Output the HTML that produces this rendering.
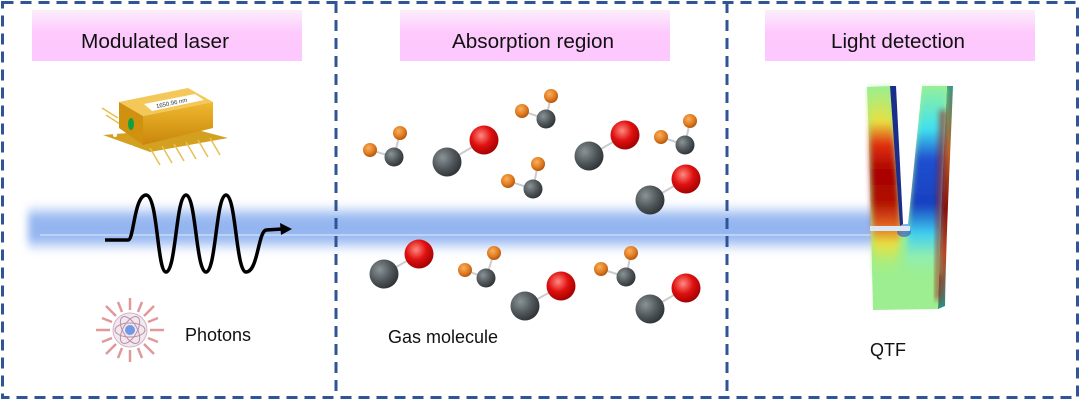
<!DOCTYPE html>
<html><head><meta charset="utf-8"><style>
html,body{margin:0;padding:0;background:#fff;}
body{width:1080px;height:400px;position:relative;overflow:hidden;font-family:"Liberation Sans",sans-serif;}
</style></head><body>
<svg width="1080" height="400" viewBox="0 0 1080 400" xmlns="http://www.w3.org/2000/svg" style="position:absolute;left:0;top:0">
<defs>
<linearGradient id="pink" x1="0" y1="0" x2="0" y2="1"><stop offset="0" stop-color="#fbeefb"/><stop offset="0.45" stop-color="#fdc9fd"/><stop offset="1" stop-color="#fdc8fd"/></linearGradient>
<linearGradient id="beamv" x1="0" y1="0" x2="0" y2="1"><stop offset="0" stop-color="#a8c4f4" stop-opacity="0"/><stop offset="0.3" stop-color="#8fb2f0"/><stop offset="0.7" stop-color="#8fb2f0"/><stop offset="1" stop-color="#a8c4f4" stop-opacity="0"/></linearGradient>
<filter id="blur"><feGaussianBlur stdDeviation="4"/></filter>
<filter id="soft"><feGaussianBlur stdDeviation="3"/></filter>
<radialGradient id="gray" cx="0.35" cy="0.35" r="0.7"><stop offset="0" stop-color="#8a9396"/><stop offset="0.6" stop-color="#4e5559"/><stop offset="1" stop-color="#2d3235"/></radialGradient>
<radialGradient id="red" cx="0.4" cy="0.35" r="0.7"><stop offset="0" stop-color="#ff8a80"/><stop offset="0.5" stop-color="#e01010"/><stop offset="1" stop-color="#9a0000"/></radialGradient>
<radialGradient id="org" cx="0.4" cy="0.35" r="0.7"><stop offset="0" stop-color="#f8b060"/><stop offset="0.6" stop-color="#e07a1e"/><stop offset="1" stop-color="#a85010"/></radialGradient>
<linearGradient id="qL" x1="0" y1="0" x2="0" y2="1"><stop offset="0" stop-color="#9cee90"/><stop offset="0.18" stop-color="#e8e040"/><stop offset="0.3" stop-color="#e03010"/><stop offset="0.45" stop-color="#a80000"/><stop offset="0.6" stop-color="#b01000"/><stop offset="0.72" stop-color="#e06020"/><stop offset="0.82" stop-color="#e8e040"/><stop offset="0.92" stop-color="#a8ee80"/><stop offset="1" stop-color="#9cee90"/></linearGradient>
<linearGradient id="qR" x1="0" y1="0" x2="0" y2="1"><stop offset="0" stop-color="#8ef0a0"/><stop offset="0.22" stop-color="#40e0f0"/><stop offset="0.38" stop-color="#2050d0"/><stop offset="0.62" stop-color="#1840c0"/><stop offset="0.78" stop-color="#40d0f0"/><stop offset="0.9" stop-color="#90eeb0"/><stop offset="1" stop-color="#9cee90"/></linearGradient>
<linearGradient id="qS" x1="0" y1="0" x2="0" y2="1"><stop offset="0" stop-color="#3a9a80"/><stop offset="0.3" stop-color="#c06020"/><stop offset="0.55" stop-color="#8a1000"/><stop offset="0.75" stop-color="#c04020"/><stop offset="1" stop-color="#2a9080"/></linearGradient>
<linearGradient id="gold" x1="0" y1="0" x2="0" y2="1"><stop offset="0" stop-color="#f0b830"/><stop offset="1" stop-color="#c8860a"/></linearGradient>
</defs>

<rect x="32" y="10" width="270" height="51" fill="url(#pink)"/>
<rect x="400" y="10" width="270" height="51" fill="url(#pink)"/>
<rect x="765" y="10" width="270" height="51" fill="url(#pink)"/>
<g font-family="Liberation Sans, sans-serif" font-size="20" fill="#111" text-anchor="middle">
<text x="155" y="48" textLength="148" lengthAdjust="spacingAndGlyphs">Modulated laser</text>
<text x="533" y="48" textLength="162" lengthAdjust="spacingAndGlyphs">Absorption region</text>
<text x="898" y="48" textLength="134" lengthAdjust="spacingAndGlyphs">Light detection</text>
</g>

<rect x="28" y="203" width="892" height="50" fill="url(#beamv)" filter="url(#blur)" opacity="0.95"/>
<line x1="40" y1="235" x2="880" y2="235" stroke="#dfe8fb" stroke-width="1.5" opacity="0.7"/>

<g>
<polygon points="103,135 190,128 228,138 150,152" fill="#d4a020"/>
<g stroke="#e6c050" stroke-width="1.5">
<line x1="150" y1="148" x2="160" y2="165"/><line x1="162" y1="146" x2="172" y2="163"/><line x1="174" y1="144" x2="184" y2="161"/><line x1="186" y1="142" x2="196" y2="159"/><line x1="198" y1="140" x2="208" y2="157"/><line x1="210" y1="138" x2="220" y2="155"/>
<line x1="102" y1="108" x2="118" y2="118"/><line x1="106" y1="115" x2="120" y2="124"/>
</g>
<polygon points="119,102 188,88 213,102 143,116" fill="#f3c858"/>
<polygon points="143,116 213,102 213,128 143,145" fill="url(#gold)"/>
<polygon points="119,102 143,116 143,145 119,128" fill="#d09010"/>
<polygon points="144,104 195,94 204,100 152,111" fill="#fff"/>
<text x="172" y="105" font-size="6" fill="#333" transform="rotate(-12 172 105)" text-anchor="middle">1650.96 nm</text>
<ellipse cx="131" cy="124" rx="3" ry="6" fill="#10a040"/>
<circle cx="115" cy="135" r="2" fill="#fff"/><circle cx="131" cy="147" r="2" fill="#fff"/>
</g>

<path d="M105,240 L128,240 C134,240 134,196 146,195 C158,195 157,272 166,272 C176,272 176,195 186,195 C196,195 196,272 206,272 C216,272 216,195 226,195 C236,195 236,272 246,272 C258,272 258,232 266,230 L282,229" fill="none" stroke="#000" stroke-width="3.5" stroke-linejoin="round"/>
<polygon points="292,229 280,223 281,235" fill="#000"/>

<g transform="translate(130,330)" stroke="#d88080" stroke-width="2.5" opacity="0.8">
<line x1="0" y1="-20" x2="0" y2="-32"/><line x1="0" y1="20" x2="0" y2="32"/><line x1="-20" y1="0" x2="-34" y2="0"/><line x1="20" y1="0" x2="34" y2="0"/>
<line x1="14" y1="14" x2="24" y2="24"/><line x1="-14" y1="14" x2="-24" y2="24"/><line x1="14" y1="-14" x2="24" y2="-24"/><line x1="-14" y1="-14" x2="-24" y2="-24"/>
<line x1="8" y1="-18" x2="12" y2="-28"/><line x1="-8" y1="18" x2="-12" y2="28"/><line x1="18" y1="8" x2="28" y2="12"/><line x1="-18" y1="-8" x2="-28" y2="-12"/>
<line x1="-8" y1="-18" x2="-12" y2="-28"/><line x1="8" y1="18" x2="12" y2="28"/><line x1="18" y1="-8" x2="28" y2="-12"/><line x1="-18" y1="8" x2="-28" y2="12"/>
<circle r="17" fill="#ece4ec" stroke="#c8a0b8" stroke-width="1"/>
<ellipse rx="15" ry="7" fill="none" stroke="#b07090" stroke-width="1"/>
<ellipse rx="15" ry="7" fill="none" stroke="#b07090" stroke-width="1" transform="rotate(60)"/>
<ellipse rx="15" ry="7" fill="none" stroke="#b07090" stroke-width="1" transform="rotate(-60)"/>
<circle r="5" fill="#5080e0" stroke="none"/>
</g>
<text x="185" y="341" font-size="18" fill="#111">Photons</text>

<g stroke="#ccc" stroke-width="2">
<line x1="394" y1="157" x2="370" y2="150"/><line x1="394" y1="157" x2="400" y2="133"/>
<line x1="546" y1="119" x2="522" y2="111"/><line x1="546" y1="119" x2="551" y2="96"/>
<line x1="533" y1="189" x2="508" y2="181"/><line x1="533" y1="189" x2="538" y2="164"/>
<line x1="685" y1="145" x2="661" y2="137"/><line x1="685" y1="145" x2="690" y2="121"/>
<line x1="486" y1="278" x2="465" y2="270"/><line x1="486" y1="278" x2="494" y2="253"/>
<line x1="626" y1="277" x2="601" y2="269"/><line x1="626" y1="277" x2="631" y2="253"/>
<line x1="447" y1="162" x2="484" y2="140"/><line x1="589" y1="156" x2="625" y2="135"/>
<line x1="650" y1="200" x2="686" y2="179"/><line x1="384" y1="274" x2="419" y2="254"/>
<line x1="525" y1="306" x2="561" y2="286"/><line x1="650" y1="309" x2="686" y2="288"/>
</g>
<g fill="url(#org)">
<circle cx="370" cy="150" r="7"/><circle cx="400" cy="133" r="7"/>
<circle cx="522" cy="111" r="7"/><circle cx="551" cy="96" r="7"/>
<circle cx="508" cy="181" r="7"/><circle cx="538" cy="164" r="7"/>
<circle cx="661" cy="137" r="7"/><circle cx="690" cy="121" r="7"/>
<circle cx="465" cy="270" r="7"/><circle cx="494" cy="253" r="7"/>
<circle cx="601" cy="269" r="7"/><circle cx="631" cy="253" r="7"/>
</g>
<g fill="url(#gray)">
<circle cx="394" cy="157" r="9.5"/><circle cx="546" cy="119" r="9.5"/><circle cx="533" cy="189" r="9.5"/>
<circle cx="685" cy="145" r="9.5"/><circle cx="486" cy="278" r="9.5"/><circle cx="626" cy="277" r="9.5"/>
<circle cx="447" cy="162" r="14.5"/><circle cx="589" cy="156" r="14.5"/><circle cx="650" cy="200" r="14.5"/>
<circle cx="384" cy="274" r="14.5"/><circle cx="525" cy="306" r="14.5"/><circle cx="650" cy="309" r="14.5"/>
</g>
<g fill="url(#red)">
<circle cx="484" cy="140" r="14.5"/><circle cx="625" cy="135" r="14.5"/><circle cx="686" cy="179" r="14.5"/>
<circle cx="419" cy="254" r="14.5"/><circle cx="561" cy="286" r="14.5"/><circle cx="686" cy="288" r="14.5"/>
</g>
<text x="388" y="343" font-size="18" fill="#111">Gas molecule</text>

<!-- QTF -->
<path d="M947,86 L953,86 C950,160 946,240 945,306 L938,309 C940,240 943,160 947,86 Z" fill="url(#qS)"/>
<path d="M867,87 L890,86 L901,226 L908,226 L922,86 L947,86 C943,160 940,240 938,309 L873,310 C871,230 870,160 867,87 Z" fill="#9cee90"/>
<path d="M868,88 L890,87 L901,226 L896,275 L874,278 C872,220 870,160 868,88 Z" fill="url(#qL)" filter="url(#soft)"/>
<path d="M922,88 L946,88 C943,160 941,220 940,275 L906,275 L908,226 Z" fill="url(#qR)" filter="url(#soft)"/>
<path d="M940,110 C938,180 936,240 935,300 L940,300 C941,240 943,180 946,110 Z" fill="#a01808" opacity="0.7" filter="url(#soft)"/>
<!-- white gap between prongs -->
<polygon points="896,80 922,80 922,86 908,224 903,224" fill="#fff"/>
<!-- dark inner side face -->
<polygon points="890,86 896,86 903,224 900,226" fill="#1b2e8c"/>
<ellipse cx="904" cy="232" rx="7" ry="5" fill="#3050c0" opacity="0.6"/>
<rect x="870" y="226" width="40" height="5" fill="#dce6f8"/>
<text x="870" y="356" font-size="18" fill="#111">QTF</text>

<g fill="none" stroke="#2f5597" stroke-width="3" stroke-dasharray="11 7">
<rect x="2.5" y="2.5" width="1075" height="395"/>
<line x1="336" y1="2" x2="336" y2="398"/>
<line x1="727" y1="2" x2="727" y2="398"/>
</g>
</svg>
</body></html>
